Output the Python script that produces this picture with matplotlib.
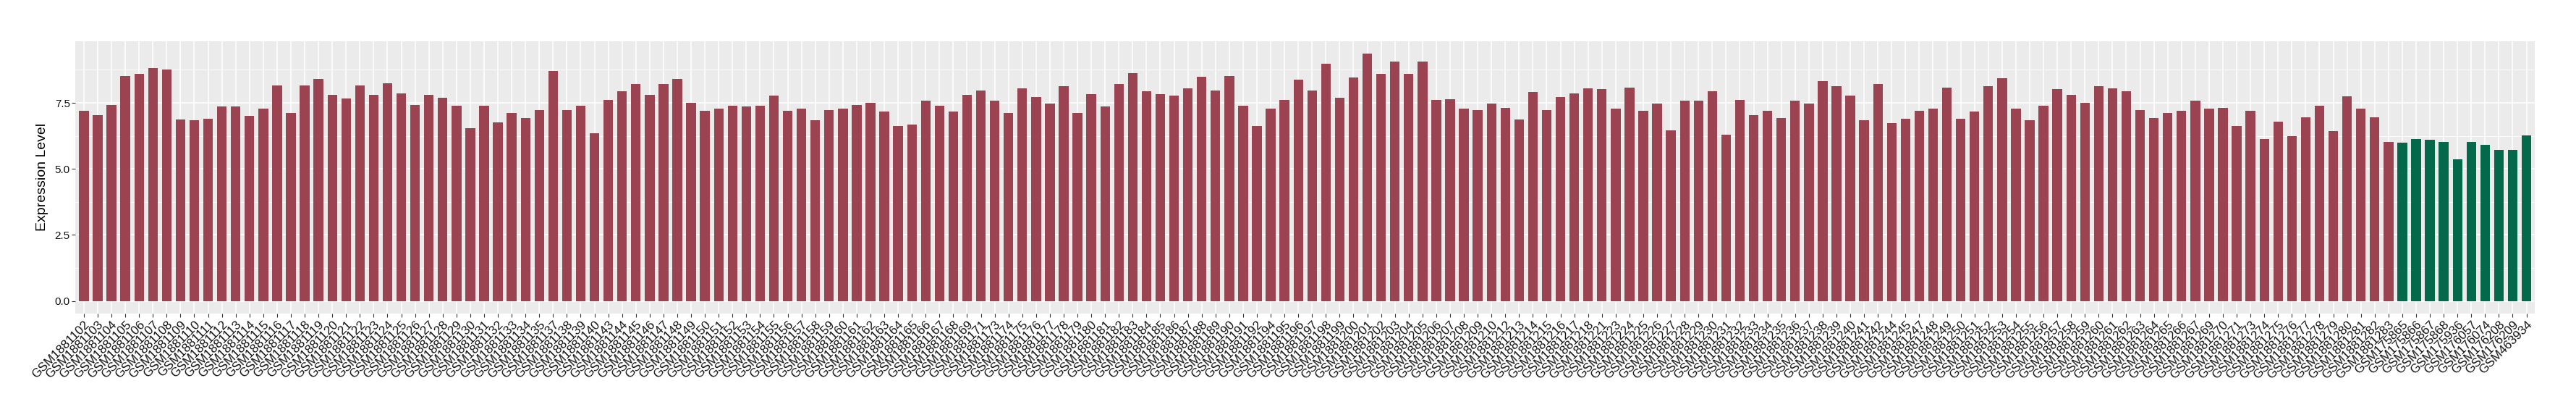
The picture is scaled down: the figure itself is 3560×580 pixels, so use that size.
import matplotlib
matplotlib.use("Agg")
import matplotlib.pyplot as plt
import numpy as np

plt.rcParams["font.family"] = ["Liberation Sans", "DejaVu Sans"]

# sample ids (GSM1881xxx) and expression values, first group
tumor_ids = [102, 103, 104, 105, 106, 107, 108, 109, 110, 111, 112, 113, 114, 115, 116, 117,
             118, 119, 120, 121, 122, 123, 124, 125, 126, 127, 128, 129, 130, 131, 132, 133,
             134, 135, 137, 138, 139, 140, 143, 144, 145, 146, 147, 148, 149, 150, 151, 152,
             153, 154, 155, 156, 157, 158, 159, 160, 161, 162, 163, 164, 165, 166, 167, 168,
             169, 171, 173, 174, 175, 176, 177, 178, 179, 180, 181, 182, 183, 184, 185, 186,
             187, 188, 189, 190, 191, 192, 194, 195, 196, 197, 198, 199, 200, 201, 202, 203,
             204, 205, 206, 207, 208, 209, 210, 212, 213, 214, 215, 216, 217, 218, 221, 223,
             224, 225, 226, 227, 228, 229, 230, 231, 232, 233, 234, 235, 236, 237, 238, 239,
             240, 241, 242, 244, 245, 247, 248, 249, 250, 251, 252, 253, 254, 255, 256, 257,
             258, 259, 260, 261, 262, 263, 264, 265, 266, 267, 269, 270, 271, 273, 274, 275,
             276, 277, 278, 279, 280, 281, 282, 283]
tumor_values = [7.19, 7.04, 7.43, 8.52, 8.60, 8.83, 8.75, 6.88, 6.83, 6.91, 7.35, 7.35, 7.01, 7.29, 8.17, 7.12,
                8.17, 8.41, 7.81, 7.67, 8.17, 7.81, 8.25, 7.86, 7.43, 7.81, 7.70, 7.40, 6.53, 7.40, 6.77, 7.12,
                6.93, 7.24, 8.72, 7.24, 7.38, 6.36, 7.62, 7.95, 8.22, 7.81, 8.20, 8.41, 7.51, 7.19, 7.27, 7.40,
                7.35, 7.38, 7.78, 7.21, 7.27, 6.85, 7.24, 7.29, 7.43, 7.51, 7.16, 6.61, 6.69, 7.59, 7.38, 7.16,
                7.81, 7.98, 7.59, 7.12, 8.06, 7.73, 7.48, 8.12, 7.12, 7.84, 7.35, 8.20, 8.63, 7.93, 7.84, 7.78,
                8.06, 8.49, 7.98, 8.52, 7.38, 6.61, 7.27, 7.62, 8.39, 7.98, 8.99, 7.70, 8.47, 9.37, 8.60, 9.07,
                8.60, 9.07, 7.62, 7.65, 7.29, 7.24, 7.46, 7.32, 6.88, 7.90, 7.24, 7.73, 7.86, 8.06, 8.01, 7.29,
                8.09, 7.19, 7.46, 6.47, 7.57, 7.57, 7.95, 6.30, 7.62, 7.04, 7.21, 6.93, 7.57, 7.46, 8.33, 8.14,
                7.78, 6.83, 8.22, 6.72, 6.91, 7.19, 7.29, 8.09, 6.91, 7.16, 8.12, 8.44, 7.27, 6.83, 7.38, 8.03,
                7.81, 7.51, 8.12, 8.06, 7.93, 7.24, 6.93, 7.12, 7.21, 7.59, 7.29, 7.32, 6.61, 7.21, 6.14, 6.80,
                6.25, 6.96, 7.38, 6.42, 7.75, 7.27, 6.96, 6.03]

# second group
normal_samples = ["GSM175865", "GSM175866", "GSM175867", "GSM175868", "GSM175936",
                  "GSM176057", "GSM176074", "GSM176208", "GSM176209", "GSM463934"]
normal_values = [6.00, 6.14, 6.09, 6.03, 5.37, 6.03, 5.90, 5.71, 5.71, 6.27]

samples = ["GSM1881%d" % i for i in tumor_ids] + normal_samples
values = tumor_values + normal_values
colors = ["#9B4351"] * len(tumor_values) + ["#03694A"] * len(normal_values)

fig = plt.figure(figsize=(35.6, 5.8), dpi=100)
ax = fig.add_axes([0.02935, 0.254, 0.95464, 0.6482])
ax.set_facecolor("#EBEBEB")

x = np.arange(len(samples))
ax.bar(x, values, width=0.7, color=colors, zorder=3)

# ggplot-like limits
ymax = max(values)
ax.set_xlim(-0.6, len(samples) - 0.4)
ax.set_ylim(-0.05 * ymax, ymax * 1.05)

ax.set_yticks([0, 2.5, 5.0, 7.5])
ax.set_yticklabels(["0.0", "2.5", "5.0", "7.5"])
ax.set_yticks([1.25, 3.75, 6.25, 8.75], minor=True)
ax.set_xticks(x)
ax.set_xticklabels(samples, rotation=45, ha="right", va="top", rotation_mode="anchor")

ax.grid(True, which="major", color="white", linewidth=1.1, zorder=0)
ax.grid(True, which="minor", axis="y", color="white", linewidth=0.55, zorder=0)
ax.set_axisbelow(True)
for s in ax.spines.values():
    s.set_visible(False)
ax.tick_params(axis="both", which="major", length=3.5, width=0.8, color="#333333",
               labelcolor="#111111", labelsize=11, pad=2)
ax.tick_params(axis="x", labelsize=12.3)
ax.tick_params(which="minor", length=0)

ax.set_ylabel("Expression Level", fontsize=14, labelpad=6)

fig.savefig("out.png", dpi=100)
